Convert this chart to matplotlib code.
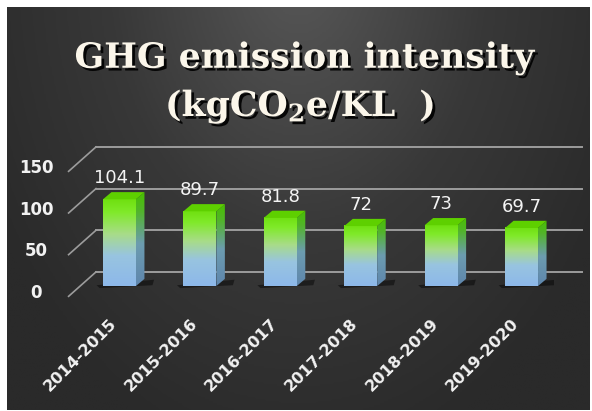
import numpy as np
import matplotlib
matplotlib.use("Agg")
import matplotlib.pyplot as plt
import matplotlib.patheffects as pe
from matplotlib.colors import LinearSegmentedColormap
from matplotlib.patches import Polygon

years = ["2014-2015", "2015-2016", "2016-2017", "2017-2018", "2018-2019", "2019-2020"]
intensity = [104.1, 89.7, 81.8, 72, 73, 69.7]
value_labels = ["104.1", "89.7", "81.8", "72", "73", "69.7"]
y_ticks = [0, 50, 100, 150]

plt.rcParams["mathtext.fontset"] = "dejavuserif"

W, H = 592, 411
fig = plt.figure(figsize=(W / 100, H / 100), dpi=100)
fig.patch.set_facecolor("white")

# dark radial background (lighter near the top centre)
bg = fig.add_axes([7 / W, 1 / H, (W - 9) / W, (H - 8) / H])
gx, gy = np.meshgrid(np.linspace(-1, 1, 300), np.linspace(0, 1, 220))
r = np.sqrt((gx / 1.2) ** 2 + ((gy + 0.1) / 1.25) ** 2)
shade = np.clip(1 - r, 0, 1)
bg_cmap = LinearSegmentedColormap.from_list("bg", ["#2a2a2a", "#383838", "#535353"])
bg.imshow(shade, cmap=bg_cmap, aspect="auto", extent=[0, 1, 0, 1], origin="upper")
bg.set_axis_off()

# chart axes: front plane, x in category units, y in value units
ax = fig.add_axes([71 / W, (H - 293) / H, 482.5 / W, 125 / H])
ax.set_xlim(-0.5, 5.5)
ax.set_ylim(0, 150)
ax.set_axis_off()
ax.patch.set_alpha(0)

ddx, ddy = 0.311, 25.3      # depth offset of the back wall
d0, d1 = 0.33, 0.67         # bar depth span
hw = 0.205                  # half bar width
grid_c = "#9c9c9c"

for v in y_ticks:
    ax.plot([-0.53, -0.5 + ddx], [v - 4, v + ddy], color=grid_c, lw=1.2, clip_on=False)
    ax.plot([-0.5 + ddx, 5.5 + ddx + 0.04], [v + ddy, v + ddy], color=grid_c, lw=1.4,
            clip_on=False)
    ax.text(-0.93, v, str(v), color="#f2f2f2", fontsize=12, fontweight="bold",
            family="DejaVu Sans", ha="center", va="center", clip_on=False)

front_cmap = LinearSegmentedColormap.from_list(
    "front", [(0, "#8db8ea"), (0.35, "#98c4e0"), (0.6, "#a8dc88"), (0.85, "#80ea2a"),
              (1, "#6fe010")])
side_cmap = LinearSegmentedColormap.from_list(
    "side", [(0, "#5f86ad"), (0.45, "#6c9cb0"), (0.8, "#52b42a"), (1, "#48c000")])
grad = np.linspace(0, 1, 256)[:, None]

for i, v in enumerate(intensity):
    fx0 = i - hw + d0 * ddx
    fx1 = i + hw + d0 * ddx
    fy0 = d0 * ddy
    fy1 = v + d0 * ddy
    sx = (d1 - d0) * ddx
    sy = (d1 - d0) * ddy

    # soft shadow at base
    sh = Polygon([(fx0 - 0.08, fy0 + 1), (fx1 + sx + 0.12, fy0 + sy - 1),
                  (fx1 + sx + 0.1, fy0 + 1), (fx0 - 0.04, fy0 - 2.5)],
                 closed=True, facecolor="black", alpha=0.45, lw=0, zorder=2)
    ax.add_patch(sh)

    # front face
    ax.imshow(grad, cmap=front_cmap, origin="lower", aspect="auto",
              extent=[fx0, fx1, fy0, fy1], zorder=3, clip_on=False)
    # side face
    side = Polygon([(fx1, fy0), (fx1 + sx, fy0 + sy), (fx1 + sx, fy1 + sy), (fx1, fy1)],
                   closed=True, facecolor="none", lw=0)
    ax.add_patch(side)
    im = ax.imshow(grad, cmap=side_cmap, origin="lower", aspect="auto",
                   extent=[fx1, fx1 + sx, fy0, fy1 + sy], zorder=3)
    im.set_clip_path(side)
    # top face
    top = Polygon([(fx0, fy1), (fx1, fy1), (fx1 + sx, fy1 + sy), (fx0 + sx, fy1 + sy)],
                  closed=True, facecolor="#5ed000", edgecolor="none", zorder=4, clip_on=False)
    ax.add_patch(top)

    ax.text(i + d0 * ddx, fy1 + 25, value_labels[i], color="#f4f4f4", fontsize=13,
            ha="center", va="center", family="DejaVu Sans", clip_on=False, zorder=5)

    ax.text(i + 0.04, -34, years[i], color="#f2f2f2", fontsize=11.5, fontweight="bold",
            rotation=45, rotation_mode="anchor", ha="right", va="center",
            family="DejaVu Sans", clip_on=False)

shadow = [pe.withSimplePatchShadow(offset=(2, -2), shadow_rgbFace="black", alpha=0.9)]
fig.text(304 / W, 1 - 58 / H, "GHG emission intensity", color="#fbf6ea", fontsize=25,
         fontweight="bold", family="DejaVu Serif", ha="center",
         va="center", path_effects=shadow)
fig.text(300 / W, 1 - 106 / H, r"(kgCO$_{\mathbf{2}}$e/KL  )", color="#fbf6ea", fontsize=25,
         fontweight="bold", family="DejaVu Serif", ha="center",
         va="center", path_effects=shadow)

fig.savefig("out.png", dpi=100, facecolor=fig.get_facecolor())
